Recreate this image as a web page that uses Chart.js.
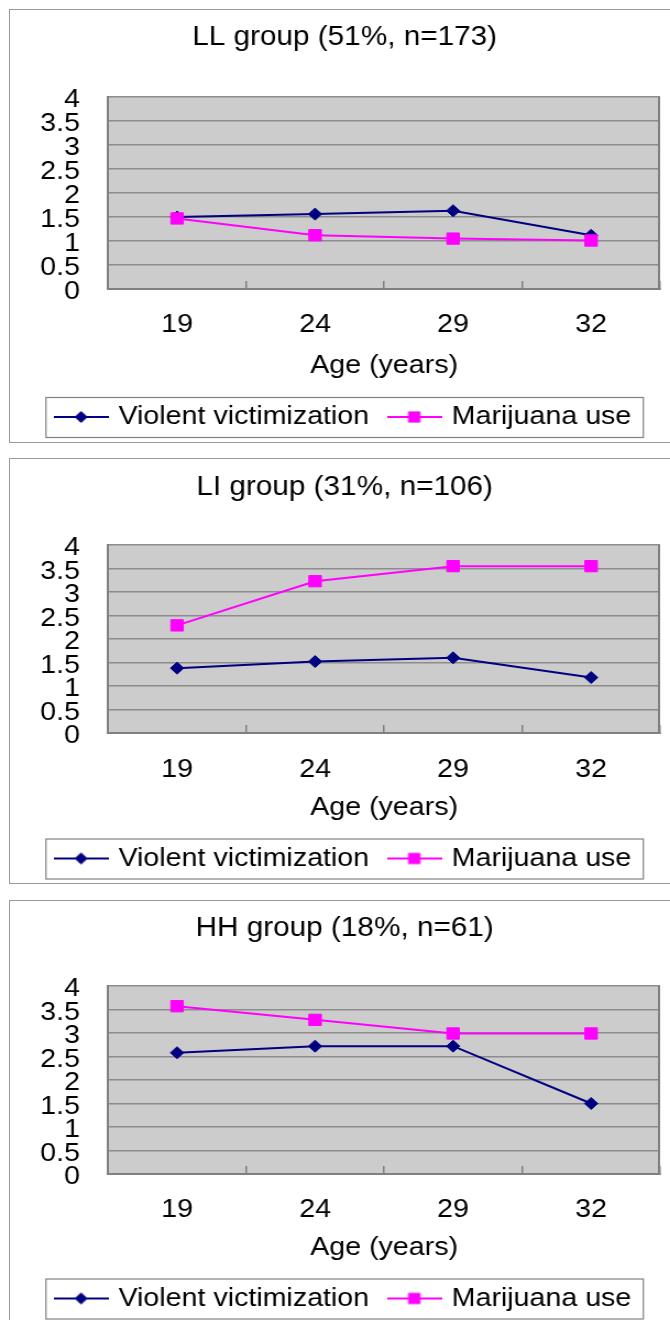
<!DOCTYPE html>
<html>
<head>
<meta charset="utf-8">
<script src="https://cdn.jsdelivr.net/npm/chart.js@4/dist/chart.umd.min.js"></script>
<style>
  html, body { margin: 0; padding: 0; background: #fff; }
  body { position: relative; width: 670px; height: 1320px; overflow: hidden; }
  .panel { position: absolute; left: 9px; width: 720px; border: 1.5px solid #9a9a9a; box-sizing: border-box; }
  .stretch { position: absolute; left: 0; transform-origin: 0 0; transform: scaleX(1.1002); }
  canvas { display: block; }
</style>
</head>
<body>
<script>
// Age categories shared by the three group charts
const ages = ['19', '24', '29', '32'];
const seriesNames = ['Violent victimization', 'Marijuana use'];
const groupTitles = ['LL group (51%, n=173)', 'LI group (31%, n=106)', 'HH group (18%, n=61)'];
const axisTitle = 'Age (years)';

// Mean scores per age, one array per group and series
const llViolent   = [1.50, 1.56, 1.63, 1.12];
const llMarijuana = [1.47, 1.12, 1.05, 1.01];
const liViolent   = [1.38, 1.52, 1.60, 1.18];
const liMarijuana = [2.29, 3.23, 3.55, 3.55];
const hhViolent   = [2.58, 2.72, 2.72, 1.50];
const hhMarijuana = [3.57, 3.28, 2.99, 2.99];

const yMin = 0, yMax = 4, yStep = 0.5;

const groups = [
  { title: groupTitles[0], violent: llViolent, marijuana: llMarijuana },
  { title: groupTitles[1], violent: liViolent, marijuana: liMarijuana },
  { title: groupTitles[2], violent: hhViolent, marijuana: hhMarijuana }
];

// Panel geometry (page px); drawing is done in a narrower canvas and stretched sideways
const CANVAS_W = 609;
const panelLayout = [
  { top: 9,   boxH: 434, canvasH: 431, titlePad: { top: 11.8, bottom: 42.8 }, xAxisH: 95,   tickPad: 28.4, axisTitlePad: 2.4, padBottom: 1 },
  { top: 458, boxH: 426, canvasH: 423, titlePad: { top: 12.8, bottom: 40.8 }, xAxisH: 92.5, tickPad: 29.4, axisTitlePad: 1.9, padBottom: 0.5 },
  { top: 900, boxH: 440, canvasH: 421, titlePad: { top: 11.8, bottom: 40.8 }, xAxisH: 91.5, tickPad: 28.4, axisTitlePad: 1.9, padBottom: 0.5 }
];

const FONT = "'Liberation Sans', Arial, sans-serif";
const NAVY = '#000080';
const MAGENTA = '#ff00ff';
const GRID = '#8c8c8c';

// Legend swatch: a short line with the series marker in the middle
function legendSwatch(color, shape) {
  const c = document.createElement('canvas');
  c.width = 50; c.height = 26;
  const g = c.getContext('2d');
  g.strokeStyle = color; g.fillStyle = color; g.lineWidth = 2;
  g.beginPath(); g.moveTo(0, 13); g.lineTo(50, 13); g.stroke();
  g.beginPath();
  if (shape === 'diamond') {
    g.moveTo(25 - 6, 13); g.lineTo(25, 13 - 6); g.lineTo(25 + 6, 13); g.lineTo(25, 13 + 6);
  } else {
    g.rect(25 - 5.6, 13 - 5.6, 11.2, 11.2);
  }
  g.closePath(); g.fill();
  return c;
}
const swatches = [legendSwatch(NAVY, 'diamond'), legendSwatch(MAGENTA, 'square')];

// Grey plot area, right-hand frame line and the box around the legend
const plotFrame = {
  id: 'plotFrame',
  beforeDraw(chart) {
    const { ctx, chartArea: a } = chart;
    ctx.save();
    ctx.fillStyle = '#cccccc';
    ctx.fillRect(a.left, a.top, a.right - a.left, a.bottom - a.top);
    ctx.restore();
  },
  beforeDatasetsDraw(chart) {
    const { ctx, chartArea: a } = chart;
    ctx.save();
    ctx.strokeStyle = '#808080';
    ctx.lineWidth = 2;
    ctx.beginPath();
    ctx.moveTo(a.right - 1, a.top);
    ctx.lineTo(a.right - 1, a.bottom);
    ctx.stroke();
    ctx.restore();
  },
  afterDraw(chart) {
    const boxes = chart.legend && chart.legend.legendHitBoxes;
    if (!boxes || !boxes.length) return;
    const first = boxes[0], last = boxes[boxes.length - 1];
    const left = first.left - 11.4;
    const right = last.left + last.width + 10.4;
    const top = first.top - 7;
    const bottom = first.top + first.height + 7;
    const ctx = chart.ctx;
    ctx.save();
    ctx.strokeStyle = '#808080';
    ctx.lineWidth = 1.2;
    ctx.strokeRect(left + 0.5, top + 0.5, right - left, bottom - top);
    ctx.restore();
  }
};

groups.forEach((grp, i) => {
  const L = panelLayout[i];

  const frame = document.createElement('div');
  frame.className = 'panel';
  frame.style.top = L.top + 'px';
  frame.style.height = L.boxH + 'px';
  document.body.appendChild(frame);

  const wrap = document.createElement('div');
  wrap.className = 'stretch';
  wrap.style.top = (L.top + 1) + 'px';
  const canvas = document.createElement('canvas');
  canvas.width = CANVAS_W;
  canvas.height = L.canvasH;
  wrap.appendChild(canvas);
  document.body.appendChild(wrap);

  new Chart(canvas.getContext('2d'), {
    type: 'line',
    data: {
      labels: ages,
      datasets: [
        {
          label: seriesNames[0],
          data: grp.violent,
          borderColor: NAVY,
          backgroundColor: NAVY,
          borderWidth: 2,
          pointStyle: 'rectRot',
          pointRadius: 6,
          pointBorderWidth: 1,
          tension: 0,
          order: 1
        },
        {
          label: seriesNames[1],
          data: grp.marijuana,
          borderColor: MAGENTA,
          backgroundColor: MAGENTA,
          borderWidth: 2,
          pointStyle: 'rect',
          pointRadius: 8,
          pointBorderWidth: 1,
          tension: 0,
          order: 0
        }
      ]
    },
    options: {
      responsive: false,
      animation: false,
      devicePixelRatio: 1,
      events: [],
      layout: { padding: { left: 22.9, right: 5.4, top: 0, bottom: L.padBottom } },
      plugins: {
        title: {
          display: true,
          text: grp.title,
          color: '#000',
          font: { family: FONT, size: 27, weight: 'normal' },
          padding: L.titlePad
        },
        legend: {
          display: true,
          position: 'bottom',
          labels: {
            color: '#000',
            font: { family: FONT, size: 26 },
            usePointStyle: true,
            pointStyleWidth: 42,
            padding: 20,
            generateLabels: () => seriesNames.map((name, k) => ({
              text: name,
              pointStyle: swatches[k],
              fillStyle: k === 0 ? NAVY : MAGENTA,
              strokeStyle: k === 0 ? NAVY : MAGENTA,
              lineWidth: 0,
              hidden: false,
              datasetIndex: k
            }))
          }
        },
        tooltip: { enabled: false }
      },
      scales: {
        x: {
          offset: true,
          grid: {
            display: true,
            offset: true,
            drawOnChartArea: false,
            drawTicks: true,
            tickLength: -8,
            color: '#808080',
            lineWidth: 1.5
          },
          border: { display: true, color: '#808080', width: 2 },
          ticks: {
            color: '#000',
            font: { family: FONT, size: 26 },
            padding: L.tickPad,
            maxRotation: 0
          },
          title: {
            display: true,
            text: axisTitle,
            color: '#000',
            font: { family: FONT, size: 26 },
            padding: { top: 0, bottom: L.axisTitlePad }
          },
          afterFit(scale) { scale.height = L.xAxisH; }
        },
        y: {
          min: yMin,
          max: yMax,
          grid: { color: GRID, lineWidth: 1.5, drawTicks: false },
          border: { display: true, color: '#808080', width: 2 },
          ticks: {
            stepSize: yStep,
            autoSkip: false,
            color: '#000',
            font: { family: FONT, size: 26 },
            padding: 25.5,
            labelOffset: 3,
            callback: (v) => String(v)
          },
          afterFit(scale) { scale.width = 75.3; }
        }
      }
    },
    plugins: [plotFrame]
  });
});
</script>
</body>
</html>
